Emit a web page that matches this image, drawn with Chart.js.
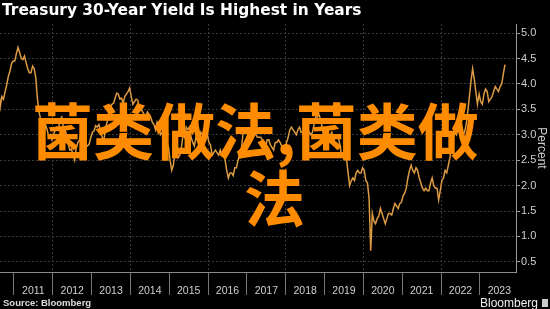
<!DOCTYPE html>
<html>
<head>
<meta charset="utf-8">
<script src="https://cdn.jsdelivr.net/npm/chart.js@4"></script>
<style>
  html, body { margin: 0; padding: 0; background: #000; }
  #wrap { position: relative; width: 550px; height: 309px; overflow: hidden; background: #000; }
  #chart { position: absolute; left: 0; top: 0; }
  .title { position: absolute; left: 2px; top: 1px; color: #fff; font: bold 15.4px "DejaVu Sans", sans-serif; white-space: nowrap; }
  .source { position: absolute; left: 3px; top: 297px; color: #ddd; font: bold 9.5px "Liberation Sans", sans-serif; white-space: nowrap; }
  .brand { position: absolute; left: 480px; top: 296px; color: #eee; font: 12px "Liberation Sans", sans-serif; white-space: nowrap; }
  .brand span { display: inline-block; width: 6px; height: 8px; background: #ccc; margin-left: 4px; }
  .overlay { position: absolute; color: #ff8c00; font: bold 61px "Noto Sans CJK SC", sans-serif; line-height: 61px; white-space: nowrap; }
</style>
</head>
<body>
<div id="wrap">
  <canvas id="chart" width="550" height="309"></canvas>
  <div class="title">Treasury 30-Year Yield Is Highest in Years</div>
  <div class="source">Source: Bloomberg</div>
  <div class="brand">Bloomberg<span></span></div>
  <div class="overlay" style="left:32px; top:98px;">菌类做法,菌类做</div>
  <div class="overlay" style="left:244px; top:165px;">法</div>
</div>
<script>
// 30-year yield, two readings per month, starting August 2010
const startYear = 2010;
const startMonth = 8;
const yields = [
  // 2010 Aug-Dec
  3.90, 3.55, 3.75, 3.70, 3.85, 3.98, 4.15, 4.25, 4.40, 4.45,
  // 2011
  4.45, 4.60, 4.72, 4.62, 4.50, 4.48, 4.55, 4.42, 4.30, 4.22, 4.22, 4.35,
  4.30, 4.12, 3.70, 3.45, 3.30, 2.85, 2.95, 3.20, 3.10, 2.95, 3.00, 2.90,
  // 2012
  3.00, 3.10, 3.15, 3.10, 3.30, 3.35, 3.15, 3.10, 3.00, 2.82, 2.70, 2.72,
  2.60, 2.50, 2.75, 2.85, 2.90, 3.05, 2.95, 2.92, 2.80, 2.78, 2.82, 2.95,
  // 2013
  3.05, 3.08, 3.18, 3.15, 3.20, 3.10, 2.95, 2.88, 3.10, 3.25, 3.35, 3.50,
  3.60, 3.62, 3.72, 3.82, 3.80, 3.70, 3.72, 3.62, 3.75, 3.80, 3.85, 3.92,
  // 2014
  3.75, 3.60, 3.65, 3.70, 3.68, 3.55, 3.52, 3.45, 3.40, 3.35, 3.45, 3.40,
  3.35, 3.25, 3.20, 3.10, 3.25, 3.18, 3.00, 3.05, 3.05, 2.95, 2.85, 2.75,
  // 2015
  2.50, 2.30, 2.40, 2.65, 2.70, 2.55, 2.60, 2.75, 3.00, 2.95, 3.15, 3.10,
  3.15, 2.95, 2.85, 2.78, 2.95, 2.90, 2.90, 3.05, 3.00, 3.00, 2.95, 3.00,
  // 2016
  2.85, 2.80, 2.60, 2.65, 2.70, 2.65, 2.60, 2.70, 2.60, 2.65, 2.50, 2.30,
  2.15, 2.25, 2.25, 2.20, 2.35, 2.35, 2.50, 2.60, 2.70, 3.00, 3.10, 3.08,
  // 2017
  3.00, 3.05, 3.05, 3.00, 3.15, 3.00, 2.95, 2.95, 2.95, 2.90, 2.80, 2.75,
  2.90, 2.90, 2.80, 2.75, 2.70, 2.85, 2.85, 2.90, 2.85, 2.78, 2.75, 2.75,
  // 2018
  2.85, 2.95, 3.10, 3.15, 3.10, 3.05, 3.00, 3.10, 3.15, 3.05, 3.05, 2.98,
  2.95, 3.00, 3.05, 3.00, 3.05, 3.20, 3.35, 3.35, 3.40, 3.30, 3.15, 2.95,
  // 2019
  3.00, 3.05, 3.00, 3.00, 3.05, 2.85, 2.95, 2.95, 2.95, 2.80, 2.60, 2.55,
  2.60, 2.55, 2.25, 2.00, 2.10, 2.15, 2.10, 2.25, 2.30, 2.25, 2.25, 2.35,
  // 2020
  2.30, 2.10, 2.05, 1.75, 0.72, 1.45, 1.30, 1.25, 1.35, 1.40, 1.55, 1.45,
  1.35, 1.25, 1.35, 1.45, 1.45, 1.42, 1.55, 1.65, 1.60, 1.55, 1.65, 1.67,
  // 2021
  1.80, 1.85, 1.95, 2.15, 2.30, 2.40, 2.30, 2.25, 2.35, 2.30, 2.15, 2.05,
  1.95, 1.90, 1.95, 1.90, 1.90, 2.05, 2.15, 2.00, 1.95, 1.95, 1.72, 1.90,
  // 2022
  2.10, 2.15, 2.30, 2.25, 2.40, 2.55, 2.85, 2.95, 3.05, 3.00, 3.20, 3.15,
  3.05, 3.00, 3.05, 3.20, 3.45, 3.75, 4.05, 4.30, 4.10, 3.85, 3.60, 3.80,
  // 2023 Jan-Aug
  3.65, 3.60, 3.80, 3.90, 3.85, 3.65, 3.70, 3.75, 3.85, 3.95, 3.90, 3.85,
  3.95, 4.00, 4.20, 4.38
];

const yearLabels = ['2011', '2012', '2013', '2014', '2015', '2016', '2017',
                    '2018', '2019', '2020', '2021', '2022', '2023'];
const yTicks = [0.5, 1.0, 1.5, 2.0, 2.5, 3.0, 3.5, 4.0, 4.5, 5.0];

// each reading sits in the middle of its half-month
const points = yields.map((v, i) => ({
  x: startYear + (startMonth - 1) / 12 + (i + 0.5) / 24,
  y: v
}));

const isYear = v => Number.isInteger(v);

const ctx = document.getElementById('chart');
new Chart(ctx, {
  type: 'line',
  data: {
    datasets: [{
      data: points,
      borderColor: '#dc9a42',
      borderWidth: 1.5,
      pointRadius: 0,
      tension: 0
    }]
  },
  options: {
    responsive: false,
    animation: false,
    layout: { padding: { top: 24, left: 0, right: 0, bottom: 0 } },
    plugins: { legend: { display: false }, tooltip: { enabled: false } },
    scales: {
      x: {
        type: 'linear',
        position: 'bottom',
        min: 2010.64,
        max: 2023.93,
        afterBuildTicks: scale => {
          // year boundaries get a tick mark, year middles get the label
          const ticks = [];
          yearLabels.forEach(y => {
            ticks.push({ value: Number(y) });
            ticks.push({ value: Number(y) + 0.5 });
          });
          scale.ticks = ticks;
        },
        afterFit: scale => { scale.height = 37; },
        ticks: {
          autoSkip: false,
          maxRotation: 0,
          color: '#cfcfcf',
          font: { family: 'Liberation Sans', size: 10.5 },
          padding: -10,
          callback: v => isYear(v) ? '' : String(Math.floor(v))
        },
        grid: {
          color: c => (c.tick && isYear(c.tick.value) && c.tick.value % 2 === 0) ? '#3a3a3a' : 'transparent',
          tickColor: c => (c.tick && isYear(c.tick.value)) ? '#777' : 'transparent',
          tickLength: 23,
          lineWidth: 1
        },
        border: { color: '#8a8a8a', dash: [2, 2] }
      },
      y: {
        type: 'linear',
        position: 'right',
        min: 0.3,
        max: 5.18,
        afterBuildTicks: scale => {
          scale.ticks = yTicks.map(v => ({ value: v }));
        },
        afterFit: scale => { scale.width = 34; },
        ticks: {
          color: '#cfcfcf',
          font: { family: 'Liberation Sans', size: 11 },
          padding: 1,
          callback: v => v.toFixed(1)
        },
        grid: { color: '#3a3a3a', tickColor: '#999', tickLength: 4 },
        border: { color: '#999', dash: [2, 2] },
        title: {
          display: true,
          text: 'Percent',
          color: '#cfcfcf',
          font: { family: 'Liberation Sans', size: 12 },
          padding: { top: 1, bottom: 0 }
        }
      }
    }
  }
});
</script>
</body>
</html>
